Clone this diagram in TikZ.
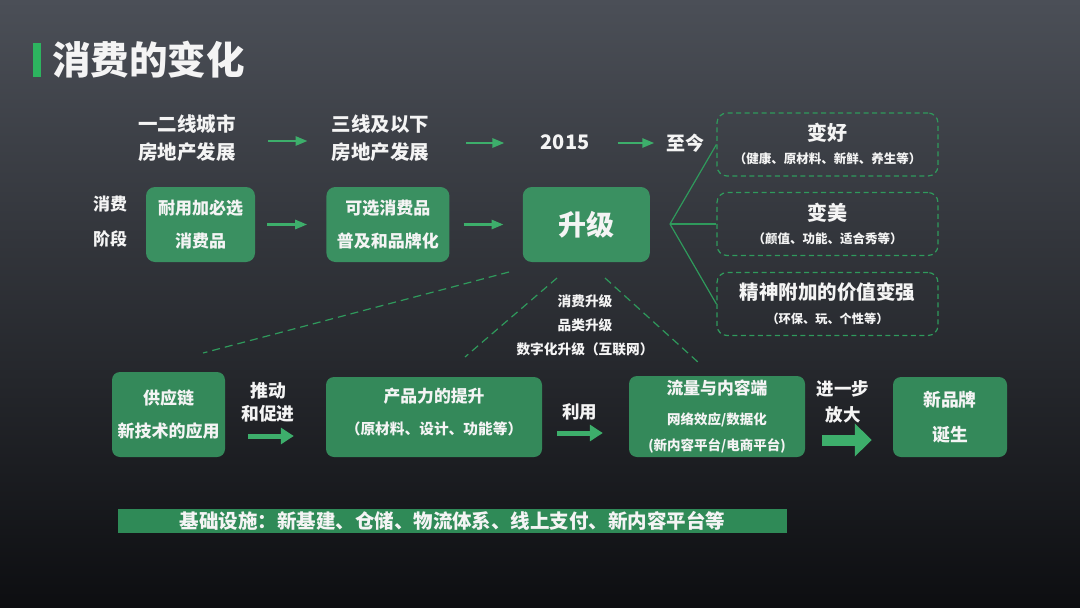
\documentclass[tikz,border=0pt]{standalone}
\usepackage{fontspec}
\setmainfont{Noto Sans CJK SC}
\usepackage{xcolor}
\definecolor{cBgTop}{HTML}{4B4F57}
\definecolor{cBgBot}{HTML}{0D0E11}
\definecolor{cBox}{HTML}{3A9061}
\definecolor{cBoxDark}{HTML}{34895A}
\definecolor{cBar}{HTML}{2F8A57}
\definecolor{cTitle}{HTML}{2DB45F}
\definecolor{cArrow}{HTML}{3DAE6B}
\definecolor{cLine}{HTML}{2F9A5C}
\definecolor{cText}{HTML}{F4F4F4}
\usepackage{tikz}
\usetikzlibrary{positioning,arrows.meta,calc}
\tikzset{
  node-box/.style={fill=cBox,rounded corners=9pt,inner sep=0pt,align=center,
    text=cText,font=\bfseries\fontsize{17}{33}\selectfont},
  node-box-low/.style={node-box,fill=cBoxDark,rounded corners=8pt},
  node-dash/.style={draw=cLine,line width=1.2pt,dash pattern=on 5pt off 3.5pt,
    rounded corners=10pt,minimum width=221pt,minimum height=63pt,inner sep=0pt},
  node-text/.style={text=cText,inner sep=0pt,align=center,
    font=\bfseries\fontsize{19.5}{28}\selectfont},
  node-small/.style={text=cText,inner sep=0pt,align=center,
    font=\bfseries\fontsize{17.5}{23}\selectfont},
  node-sub/.style={text=cText,inner sep=0pt,align=center,
    font=\bfseries\fontsize{12.5}{15}\selectfont},
  node-bar/.style={fill=cBar,inner sep=0pt,minimum width=669pt,minimum height=24pt,
    text=cText,font=\bfseries\fontsize{19.5}{22}\selectfont},
  arrow/.style={-{Triangle[length=12pt,width=9pt]},line width=2.6pt,draw=cArrow},
  arrow-fat/.style={-{Triangle[length=13pt,width=16pt]},line width=5pt,draw=cArrow},
  arrow-huge/.style={-{Triangle[length=17pt,width=32pt]},line width=11pt,draw=cArrow},
  link/.style={draw=cLine,line width=1.2pt},
  link-dash/.style={draw=cLine,line width=1.2pt,dash pattern=on 8pt off 5pt},
}

\begin{document}
\begin{tikzpicture}[x=1pt,y=-1pt]
  \shade[top color=cBgTop,bottom color=cBgBot] (0,0) rectangle (1080,608);
  \useasboundingbox (0,0) rectangle (1080,608);

  % title
  \fill[cTitle] (33,43) rectangle (40.5,77);
  \node[text=cText,inner sep=0pt,anchor=west,font=\bfseries\fontsize{38.5}{40}\selectfont]
    (title) at (52,60) {消费的变化};

  % time line
  \node[node-text] (t-first) at (187,138) {一二线城市\\房地产发展};
  \node[node-text] (t-third) at (380.5,138) {三线及以下\\房地产发展};
  \node[node-text,font=\bfseries\fontsize{20}{24}\selectfont] (t-year) at (565,142) {2015};
  \node[node-text,font=\bfseries\fontsize{19}{24}\selectfont] (t-now) at (685.5,143) {至今};
  \draw[arrow,shorten <=32pt,shorten >=24pt] ($(t-first.east)+(0,3)$) -- ($(t-third.west)+(0,3)$);
  \draw[arrow,shorten <=37pt,shorten >=36pt] ($(t-third.east)+(0,5)$) -- ($(t-year.west)+(0,1)$);
  \draw[arrow,shorten <=28pt,shorten >=12pt] ($(t-year.east)+(0,1)$) -- (t-now.west);

  % stages
  \node[node-text,font=\bfseries\fontsize{17}{35}\selectfont] (stage) at (110,221.5) {消费\\阶段};
  \node[node-box,minimum width=109pt,minimum height=75pt] (durable) at (200.5,224.5) {耐用加必选\\消费品};
  \node[node-box,minimum width=123pt,minimum height=75pt,right=71pt of durable] (optional) {可选消费品\\普及和品牌化};
  \node[node-box,minimum width=127pt,minimum height=75pt,right=73pt of optional,
    font=\bfseries\fontsize{28}{30}\selectfont] (upgrade) {升级};
  \draw[arrow,shorten <=12pt,shorten >=19pt] (durable) -- (optional);
  \draw[arrow,shorten <=14pt,shorten >=19pt] (optional) -- (upgrade);

  % upgrade directions
  \node[node-dash] (good) at (827.5,144.5) {};
  \node[node-dash] (pretty) at (827.5,224) {};
  \node[node-dash] (spirit) at (827.5,304) {};
  \node[node-text,font=\bfseries\fontsize{20}{24}\selectfont] (good-t) at ($(good.center)+(0,-11.5)$) {变好};
  \node[node-sub] (good-s) at ($(good.center)+(0,14.5)$) {（健康、原材料、新鲜、养生等）};
  \node[node-text,font=\bfseries\fontsize{20}{24}\selectfont] (pretty-t) at ($(pretty.center)+(0,-11)$) {变美};
  \node[node-sub] (pretty-s) at ($(pretty.center)+(0,15)$) {（颜值、功能、适合秀等）};
  \node[node-text,font=\bfseries\fontsize{19.5}{24}\selectfont] (spirit-t) at ($(spirit.center)+(0,-12)$) {精神附加的价值变强};
  \node[node-sub,font=\bfseries\fontsize{12.2}{15}\selectfont] (spirit-s) at ($(spirit.center)+(0,15)$) {（环保、玩、个性等）};
  \coordinate (fan) at (670,224);
  \draw[link] (fan) -- (good.west);
  \draw[link] (fan) -- (pretty.west);
  \draw[link] (fan) -- (spirit.west);

  % drivers
  \coordinate (d1a) at (509,272);
  \coordinate (d1b) at (203,353);
  \coordinate (d2a) at (557,278);
  \coordinate (d2b) at (465,357);
  \coordinate (d3a) at (605,278);
  \coordinate (d3b) at (699,363);
  \draw[link-dash] (d1a) -- (d1b);
  \draw[link-dash] (d2a) -- (d2b);
  \draw[link-dash] (d3a) -- (d3b);
  \node[node-sub,font=\bfseries\fontsize{13.7}{24}\selectfont] (kinds) at (585,325) {消费升级\\品类升级\\数字化升级（互联网）};

  % chain
  \node[node-box-low,minimum width=113pt,minimum height=85pt] (supply) at (168.5,414.5) {供应链\\新技术的应用};
  \node[node-small,font=\bfseries\fontsize{17.8}{23}\selectfont] (drive) at (268,402.5) {推动\\和促进};
  \node[node-box-low,minimum width=216pt,minimum height=80pt] (product) at (434,417) {};
  \node[node-small,font=\bfseries\fontsize{16.8}{20}\selectfont] (product-t) at (434,396) {产品力的提升};
  \node[node-small,font=\bfseries\fontsize{14.7}{18}\selectfont] (product-s) at (434,429) {（原材料、设计、功能等）};
  \node[node-small] (use) at (579.5,412) {利用};
  \node[node-box-low,minimum width=176pt,minimum height=81pt] (flow) at (717,416.5) {};
  \node[node-small,font=\bfseries\fontsize{16.8}{20}\selectfont] (flow-t) at (717,388) {流量与内容端};
  \node[node-small,font=\bfseries\fontsize{13.5}{16}\selectfont] (flow-s) at (717,420) {网络效应/数据化};
  \node[node-small,font=\bfseries\fontsize{13.5}{16}\selectfont] (flow-u) at (717,446) {(新内容平台/电商平台)};
  \node[node-small,font=\bfseries\fontsize{17.5}{26}\selectfont] (amplify) at (843,402) {进一步\\放大};
  \node[node-box-low,minimum width=114pt,minimum height=80pt,
    font=\bfseries\fontsize{17.8}{35}\selectfont] (brand) at (950,417) {新品牌\\诞生};
  \draw[arrow-fat,shorten <=23pt,shorten >=32pt] ($(supply.east)+(0,21.5)$) -- ($(product.west)+(0,19)$);
  \draw[arrow-fat,shorten <=15pt,shorten >=26pt] ($(product.east)+(0,16)$) -- ($(flow.west)+(0,16.5)$);
  \draw[arrow-huge,shorten <=17pt,shorten >=21pt] ($(flow.east)+(0,23.5)$) -- ($(brand.west)+(0,23)$);

  % base
  \node[node-bar] (base) at (452.5,521) {基础设施：新基建、仓储、物流体系、线上支付、新内容平台等};
\end{tikzpicture}
\end{document}
